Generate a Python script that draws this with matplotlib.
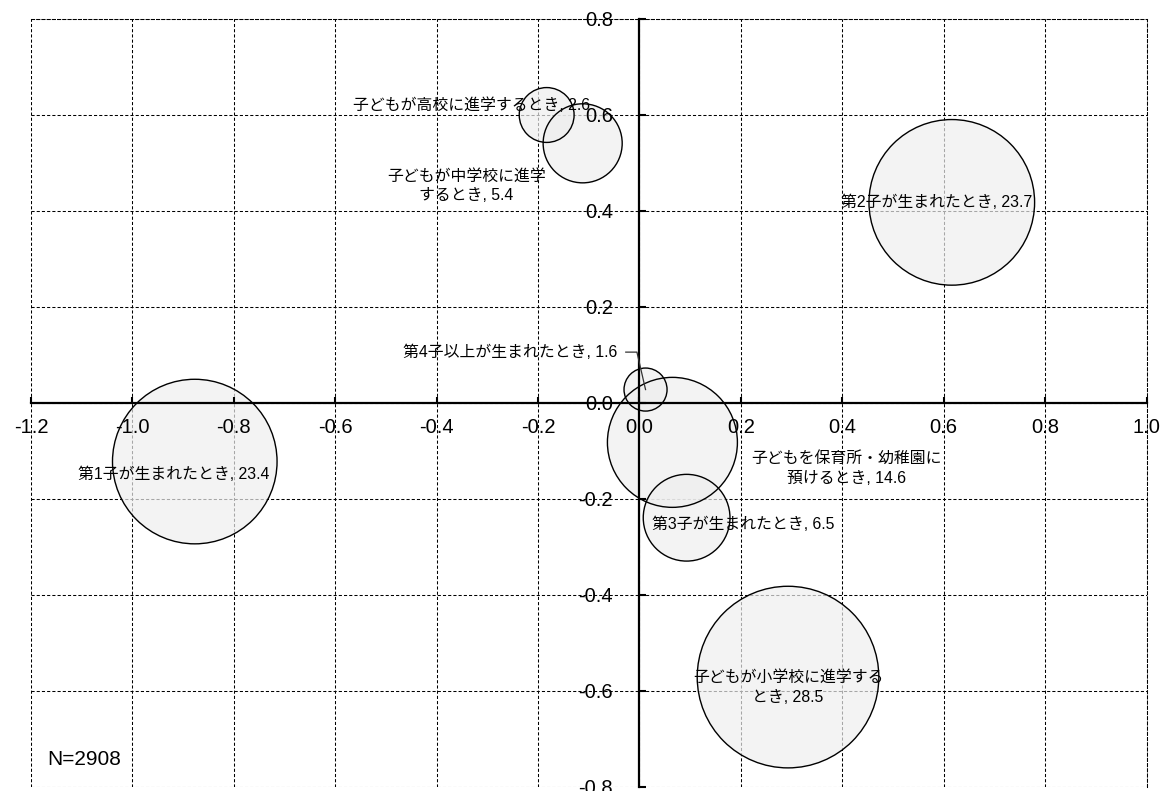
import numpy as np
import matplotlib.pyplot as plt
from matplotlib.ticker import MultipleLocator, FormatStrFormatter

# bubble data (coordinates on the two dimensions, share in %)
names = ['第1子が生まれたとき', '第2子が生まれたとき', '第3子が生まれたとき',
         '第4子以上が生まれたとき', '子どもを保育所・幼稚園に\n預けるとき',
         '子どもが小学校に進学する\nとき', '子どもが中学校に進学\nするとき',
         '子どもが高校に進学するとき']
dim1 = [-0.877, 0.616, 0.093, 0.012, 0.065, 0.293, -0.112, -0.183]
dim2 = [-0.122, 0.418, -0.239, 0.028, -0.082, -0.571, 0.541, 0.600]
share = [23.4, 23.7, 6.5, 1.6, 14.6, 28.5, 5.4, 2.6]
n_total = 2908

# where each label sits (layout only)
label_pos = [(-0.919, -0.149, 'center'), (0.587, 0.419, 'center'),
             (0.204, -0.252, 'center'), (-0.044, 0.106, 'right'),
             (0.409, -0.137, 'center'), (0.293, -0.592, 'center'),
             (-0.341, 0.452, 'center'), (-0.331, 0.621, 'center')]

label_font = ['Liberation Sans', 'Noto Sans CJK JP']
num_font = ['Liberation Sans', 'DejaVu Sans']

fig = plt.figure(figsize=(11.64, 7.91), dpi=100)
ax = fig.add_axes([31 / 1164, 4 / 791, 1115.5 / 1164, 768 / 791])
ax.set_xlim(-1.2, 1.0)
ax.set_ylim(-0.8, 0.8)

ax.xaxis.set_major_locator(MultipleLocator(0.2))
ax.yaxis.set_major_locator(MultipleLocator(0.2))
ax.xaxis.set_major_formatter(FormatStrFormatter('%.1f'))
ax.yaxis.set_major_formatter(FormatStrFormatter('%.1f'))

# dotted grid drawn under the bubbles, axis (ticks + labels) stays on top
grid_style = dict(color='black', linestyle=(0, (3, 2)), linewidth=0.75, zorder=0.5)
for t in ax.get_xticks():
    ax.axvline(t, **grid_style)
for t in ax.get_yticks():
    ax.axhline(t, **grid_style)

# axes crossing at the origin
for side in ['left', 'bottom']:
    ax.spines[side].set_position(('data', 0))
    ax.spines[side].set_linewidth(1.6)
for side in ['top', 'right']:
    ax.spines[side].set_linestyle((0, (3, 2)))
    ax.spines[side].set_linewidth(0.75)

ax.tick_params(axis='x', direction='in', length=4.5, width=1.5, pad=11)
ax.tick_params(axis='y', direction='in', length=5, width=1.5, pad=19)
for lbl in ax.get_xticklabels() + ax.get_yticklabels():
    lbl.set_fontfamily(num_font)
    lbl.set_fontsize(14.5)

# bubbles, area proportional to share
ax.scatter(dim1, dim2, s=np.array(share) * 600, facecolor='#eeeeee', alpha=0.7,
           edgecolor='none', zorder=1)
ax.scatter(dim1, dim2, s=np.array(share) * 600, facecolor='none',
           edgecolor='black', linewidth=1.0, zorder=1.1)

for i in range(len(names)):
    lx, ly, ha = label_pos[i]
    ax.text(lx, ly, f'{names[i]}, {share[i]}', ha=ha, va='center',
            fontsize=11.4, family=label_font, linespacing=1.4, zorder=5)

# leader line for the small bubble
lx, ly, _ = label_pos[3]
ax.plot([lx + 0.017, lx + 0.039, dim1[3]], [ly, ly, dim2[3]],
        color='#333333', linewidth=0.9, zorder=4)

ax.text(0.015, 0.036, f'N={n_total}', transform=ax.transAxes, ha='left',
        va='center', fontsize=15, family=num_font)

fig.savefig('out.png', dpi=100)
